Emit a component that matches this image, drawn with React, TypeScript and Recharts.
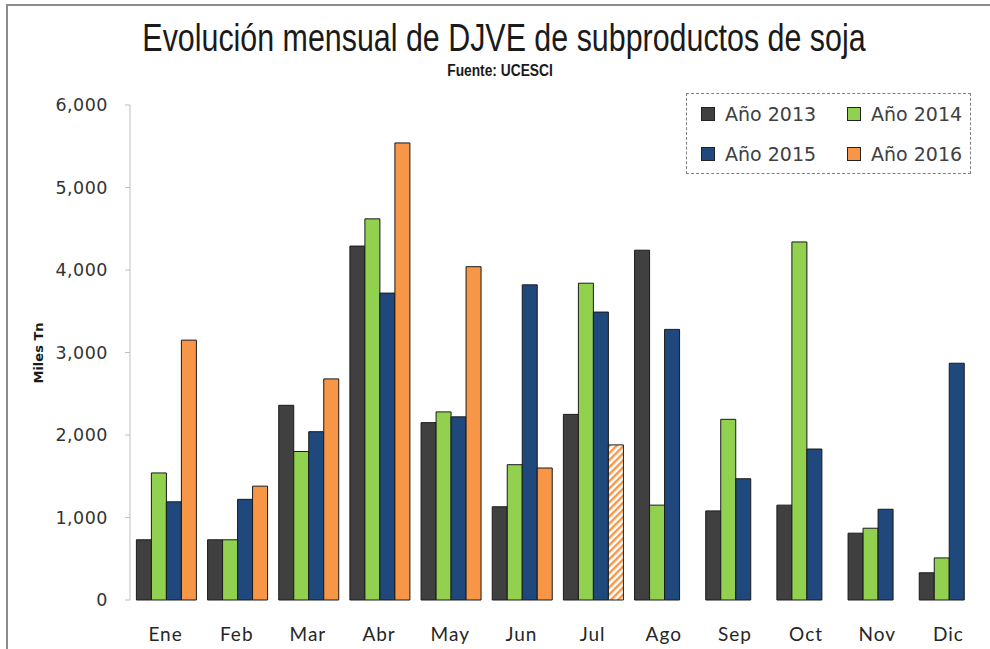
import { BarChart, Bar, XAxis, YAxis, Cell } from 'recharts'

const meses = ['Ene', 'Feb', 'Mar', 'Abr', 'May', 'Jun', 'Jul', 'Ago', 'Sep', 'Oct', 'Nov', 'Dic']
const anio2013 = [730, 730, 2360, 4290, 2150, 1130, 2250, 4240, 1080, 1150, 810, 330]
const anio2014 = [1540, 730, 1800, 4620, 2280, 1640, 3840, 1150, 2190, 4340, 870, 510]
const anio2015 = [1190, 1220, 2040, 3720, 2220, 3820, 3490, 3280, 1470, 1830, 1100, 2870]
const anio2016 = [3150, 1380, 2680, 5540, 4040, 1600, 1880, null, null, null, null, null]
// julio 2016 es dato parcial (barra rayada)
const parcial2016 = 'Jul'

const yTicks = [0, 1000, 2000, 3000, 4000, 5000, 6000]
const bordes = [0, 1, 2, 3, 4, 5, 6, 7, 8, 9, 10, 11, 12]

const series = [
  { key: 'a2013', nombre: 'Año 2013', color: '#404040' },
  { key: 'a2014', nombre: 'Año 2014', color: '#92d050' },
  { key: 'a2015', nombre: 'Año 2015', color: '#1f497d' },
  { key: 'a2016', nombre: 'Año 2016', color: '#f79646' },
]

const datos = meses.map((mes, i) => ({
  mes,
  a2013: anio2013[i],
  a2014: anio2014[i],
  a2015: anio2015[i],
  a2016: anio2016[i],
}))

const fuenteEjes = '"DejaVu Sans", Verdana, sans-serif'
const fuenteMeses = 'Lato, "Open Sans", sans-serif'
const fuenteTitulo = '"Liberation Sans", Arial, sans-serif'

function Leyenda() {
  return (
    <div
      style={{
        position: 'absolute',
        left: 686,
        top: 93,
        width: 285,
        height: 81,
        border: '1px dashed #7f7f7f',
        display: 'grid',
        gridTemplateColumns: '146px 138px',
        gridTemplateRows: '40px 40px',
        fontFamily: fuenteEjes,
        fontSize: 19,
        color: '#404040',
        boxSizing: 'border-box',
        paddingLeft: 14,
      }}
    >
      {series.map(s => (
        <div key={s.key} style={{ display: 'flex', alignItems: 'center' }}>
          <span
            style={{
              width: 12,
              height: 12,
              background: s.color,
              border: '1px solid #222',
              marginRight: 10,
              display: 'inline-block',
            }}
          />
          <span>{s.nombre}</span>
        </div>
      ))}
    </div>
  )
}

export default function App() {
  return (
    <div style={{ position: 'relative', width: 990, height: 649, overflow: 'hidden', background: '#fff' }}>
      <style>{'body{margin:0}'}</style>
      <div
        style={{
          position: 'absolute',
          left: 6,
          top: 4,
          width: 1100,
          height: 800,
          border: '2px solid #8c8c8c',
        }}
      />
      <div
        style={{
          position: 'absolute',
          top: 17,
          left: 0,
          width: 1008,
          textAlign: 'center',
          fontFamily: fuenteTitulo,
          fontSize: 38,
          color: '#1a1a1a',
          transform: 'scaleX(0.8)',
          whiteSpace: 'nowrap',
        }}
      >
        Evolución mensual de DJVE de subproductos de soja
      </div>
      <div
        style={{
          position: 'absolute',
          top: 62,
          left: 0,
          width: 1000,
          textAlign: 'center',
          fontFamily: fuenteTitulo,
          fontSize: 16,
          fontWeight: 'bold',
          color: '#1a1a1a',
          transform: 'scaleX(0.86)',
        }}
      >
        Fuente: UCESCI
      </div>
      <div
        style={{
          position: 'absolute',
          left: 38,
          top: 353,
          transform: 'translate(-50%, -50%) rotate(-90deg)',
          fontFamily: fuenteEjes,
          fontSize: 13,
          fontWeight: 'bold',
          color: '#1a1a1a',
          whiteSpace: 'nowrap',
        }}
      >
        Miles Tn
      </div>

      <div style={{ position: 'absolute', left: 0, top: 0 }}>
        <BarChart
          width={990}
          height={649}
          data={datos}
          margin={{ top: 105, right: 6, bottom: 19, left: 70 }}
          barCategoryGap="9%"
          barGap={0}
        >
          <defs>
            <pattern id="rayado" patternUnits="userSpaceOnUse" width="5" height="5" patternTransform="rotate(45)">
              <rect width="5" height="5" fill="#fff" />
              <rect width="2.4" height="5" fill="#f79646" />
            </pattern>
          </defs>
          <XAxis
            xAxisId="bordes"
            type="number"
            domain={[0, 12]}
            allowDataOverflow
            ticks={bordes}
            height={0}
            stroke="#bfbfbf"
            tickSize={6}
            tickFormatter={() => ''}
          />
          <XAxis
            dataKey="mes"
            height={30}
            axisLine={false}
            tickLine={false}
            tickMargin={22}
            tick={{ fill: '#262626', fontSize: 19, fontFamily: fuenteMeses, letterSpacing: 1 }}
          />
          <YAxis
            width={60}
            domain={[0, 6000]}
            ticks={yTicks}
            stroke="#bfbfbf"
            tickSize={5}
            tickMargin={17}
            tickFormatter={v => v.toLocaleString('en-US')}
            tick={{ fill: '#333', fontSize: 17.5, fontFamily: fuenteEjes, letterSpacing: 0.5 }}
          />
          {series.map(s => (
            <Bar
              key={s.key}
              dataKey={s.key}
              name={s.nombre}
              fill={s.color}
              stroke="#1a1a1a"
              strokeWidth={1}
              isAnimationActive={false}
            >
              {datos.map(d => (
                <Cell
                  key={d.mes}
                  fill={s.key === 'a2016' && d.mes === parcial2016 ? 'url(#rayado)' : s.color}
                />
              ))}
            </Bar>
          ))}
        </BarChart>
      </div>
      <Leyenda />
    </div>
  )
}
